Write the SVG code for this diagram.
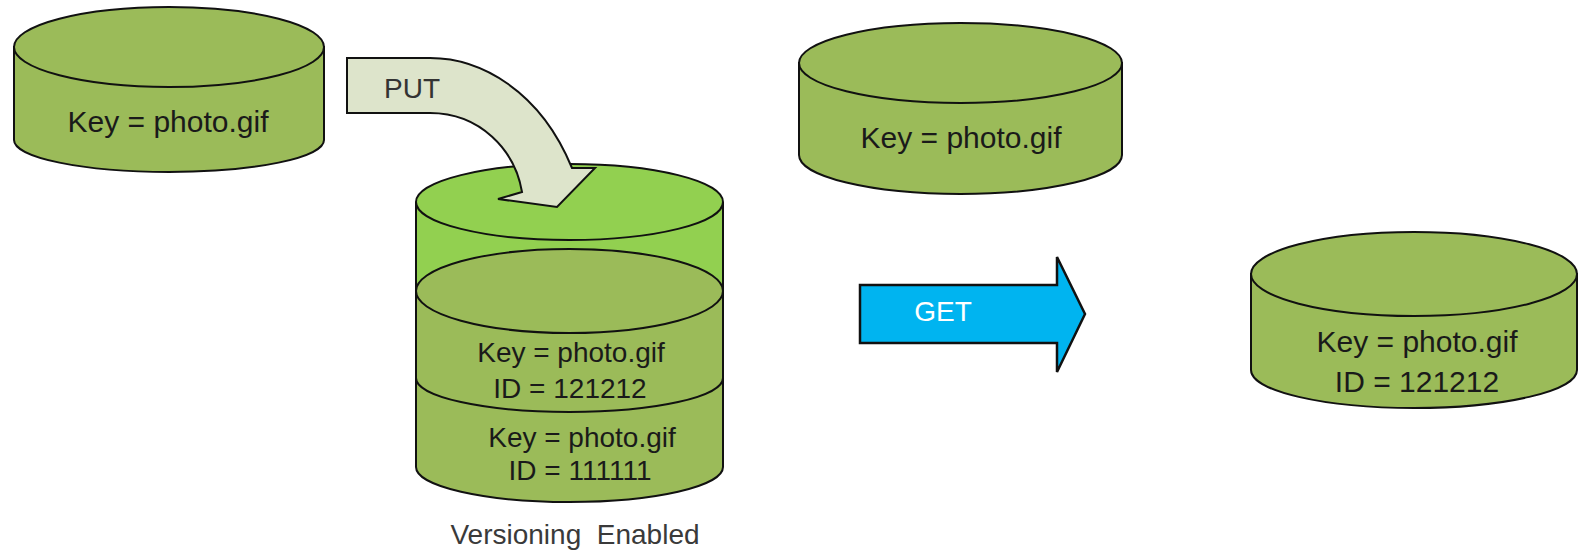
<svg xmlns="http://www.w3.org/2000/svg" width="1579" height="553" viewBox="0 0 1579 553">
<style>
.cyl{fill:#9BBB59;stroke:#111;stroke-width:2}
.cylb{fill:#9BBB59;stroke:none}
.lite{fill:#92D050;stroke:#111;stroke-width:2}
.liteb{fill:#92D050;stroke:none}
.edge{fill:none;stroke:#111;stroke-width:2}
.t{font-family:"Liberation Sans",Arial,sans-serif;fill:#1a1a1a;text-anchor:middle}
.t30{font-size:30px}
.t28{font-size:28px}
</style>
<rect width="1579" height="553" fill="#fff"/>

<g id="source-object">
  <path class="cyl" d="M14,47 L14,140 A155,32 0 0 0 324,140 L324,47 Z"/>
  <ellipse class="cyl" cx="169" cy="47" rx="155" ry="40"/>
  <text class="t t30" x="168" y="132">Key = photo.gif</text>
</g>

<g id="versioned-bucket">
  <path class="liteb" d="M416,202 L416,291 L723,291 L723,202 Z"/>
  <path class="cyl" d="M416,291 L416,467 A153.5,35 0 0 0 723,467 L723,291 Z"/>
  <line class="edge" x1="416" y1="202" x2="416" y2="291"/>
  <line class="edge" x1="723" y1="202" x2="723" y2="291"/>
  <ellipse class="cyl" cx="569.5" cy="291" rx="153.5" ry="42"/>
  <path class="edge" d="M416,378 A153.5,34 0 0 0 723,378"/>
  <ellipse class="lite" cx="569.5" cy="202" rx="153.5" ry="38"/>
  <text class="t t28" x="571" y="362">Key = photo.gif</text>
  <text class="t t28" x="570" y="398">ID = 121212</text>
  <text class="t t28" x="582" y="447">Key = photo.gif</text>
  <text class="t t28" x="580" y="480">ID = 111111</text>
  <text class="t t28" x="575" y="544" xml:space="preserve" style="fill:#3a3a3a">Versioning  Enabled</text>
</g>

<g id="current-object">
  <path class="cyl" d="M799,63 L799,155 A161.5,39 0 0 0 1122,155 L1122,63 Z"/>
  <ellipse class="cyl" cx="960.5" cy="63" rx="161.5" ry="40"/>
  <text class="t t30" x="961" y="148">Key = photo.gif</text>
</g>

<g id="retrieved-object">
  <path class="cyl" d="M1251,274 L1251,370 A163,38 0 0 0 1577,370 L1577,274 Z"/>
  <ellipse class="cyl" cx="1414" cy="274" rx="163" ry="42"/>
  <text class="t t30" x="1417" y="352">Key = photo.gif</text>
  <text class="t t30" x="1417" y="392">ID = 121212</text>
</g>

<g id="connectors">
  <g id="put-arrow">
    <path d="M347,58 L430,58 C480,58 540,90 572,168 L595,168 L557,207 L498,199 L522,192 C515,150 480,113 430,113 L347,113 Z" fill="#DDE4CB" stroke="#111" stroke-width="2" stroke-linejoin="miter"/>
    <text class="t t28" x="412" y="98" style="fill:#333">PUT</text>
  </g>
  <g id="get-arrow">
    <path d="M860,285 L1057,285 L1057,257 L1085,314 L1057,372 L1057,343 L860,343 Z" fill="#00B4F0" stroke="#111" stroke-width="2.5" stroke-linejoin="miter"/>
    <text class="t t28" x="943" y="321" style="fill:#fff">GET</text>
  </g>
</g>
</svg>
